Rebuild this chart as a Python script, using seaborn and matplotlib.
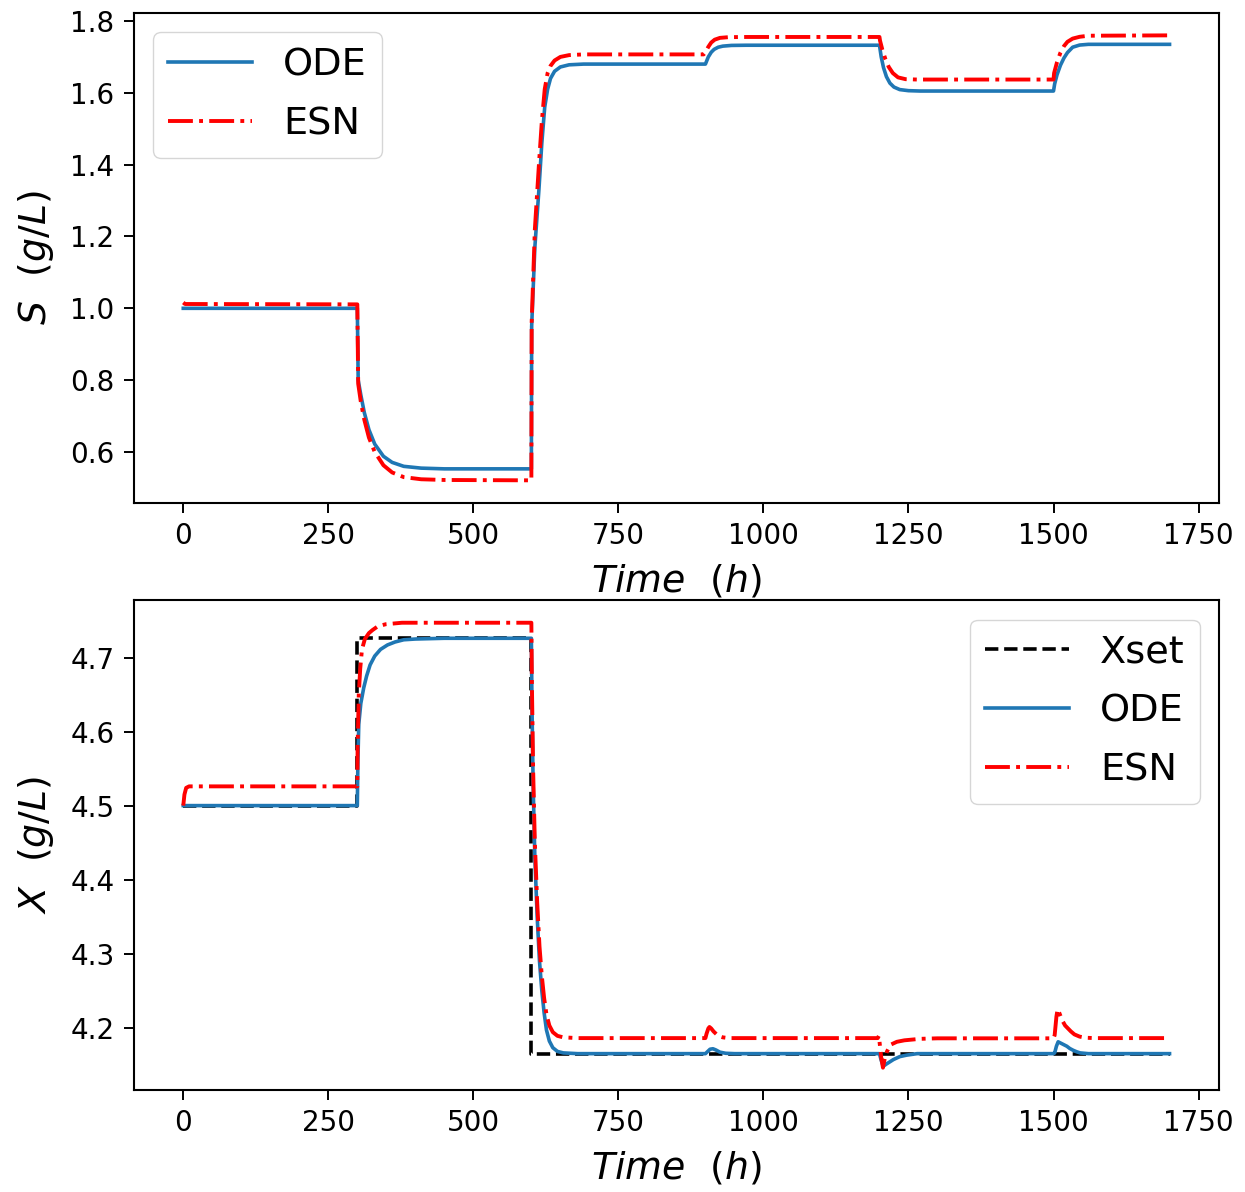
import matplotlib
matplotlib.use("Agg")
import matplotlib.pyplot as plt
import seaborn as sns

# ---------------------------------------------------------------
# Substrate concentration S (g/L): time knots (h) and values
# ---------------------------------------------------------------
s_ode_t = [0, 300,
           300, 301.5, 306, 312, 320, 330, 345, 360, 380, 410, 450, 600,
           600, 600.5, 606, 613, 618, 623, 628, 633, 640, 650, 665, 690, 900,
           900, 905, 910, 915, 922, 930, 945, 970, 1200,
           1200, 1203, 1207, 1212, 1218, 1225, 1235, 1250, 1270, 1500,
           1500, 1502, 1506, 1512, 1518, 1524, 1533, 1545, 1560, 1700]
s_ode = [1.000, 1.000,
         1.000, 0.800, 0.759, 0.710, 0.662, 0.622, 0.588, 0.571, 0.560, 0.555, 0.553, 0.553,
         0.553, 0.950, 1.170, 1.330, 1.460, 1.560, 1.610, 1.640, 1.660, 1.672, 1.678, 1.680, 1.680,
         1.680, 1.700, 1.713, 1.721, 1.727, 1.730, 1.732, 1.7325, 1.7325,
         1.7325, 1.700, 1.670, 1.645, 1.627, 1.616, 1.609, 1.606, 1.605, 1.605,
         1.605, 1.625, 1.650, 1.677, 1.697, 1.712, 1.727, 1.733, 1.735, 1.735]

s_esn_t = [0, 3, 300,
           300, 301.5, 306, 312, 320, 330, 345, 360, 380, 410, 450, 600,
           600, 600.5, 606, 613, 618, 623, 628, 633, 640, 650, 665, 690, 897,
           900, 905, 910, 916, 925, 940, 970, 1200,
           1201, 1205, 1210, 1216, 1223, 1232, 1245, 1265, 1500,
           1501, 1506, 1512, 1518, 1524, 1533, 1545, 1560, 1700]
s_esn = [1.016, 1.012, 1.011,
         1.011, 0.790, 0.740, 0.690, 0.640, 0.600, 0.563, 0.543, 0.530, 0.524, 0.522, 0.521,
         0.521, 0.960, 1.220, 1.400, 1.520, 1.610, 1.655, 1.675, 1.690, 1.700, 1.705, 1.707, 1.707,
         1.713, 1.728, 1.740, 1.748, 1.753, 1.755, 1.7555, 1.7555,
         1.745, 1.720, 1.695, 1.672, 1.655, 1.643, 1.638, 1.637, 1.637,
         1.655, 1.685, 1.712, 1.730, 1.742, 1.751, 1.756, 1.759, 1.760]

# ---------------------------------------------------------------
# Biomass concentration X (g/L): set-point, ODE model and ESN model
# ---------------------------------------------------------------
x_set_t = [0, 300, 300, 600, 600, 1700]
x_set = [4.500, 4.500, 4.727, 4.727, 4.164, 4.164]

x_ode_t = [0, 300,
           301, 302.5, 306, 311, 316, 322, 330, 340, 352, 365, 380, 400, 450, 600,
           601, 603, 606, 610, 614, 618, 622, 626, 631, 637, 645, 655, 680, 900,
           904, 908, 913, 918, 925, 935, 950, 1200,
           1203, 1206.5, 1212, 1218, 1224, 1235, 1247, 1265, 1500,
           1502, 1505, 1508, 1513, 1518, 1523, 1528, 1534, 1540, 1546, 1560, 1700]
x_ode = [4.500, 4.500,
         4.560, 4.610, 4.638, 4.659, 4.675, 4.690, 4.702, 4.711, 4.717, 4.721, 4.724, 4.725, 4.726, 4.726,
         4.640, 4.530, 4.430, 4.350, 4.290, 4.250, 4.220, 4.197, 4.182, 4.173, 4.168, 4.166, 4.165, 4.165,
         4.168, 4.171, 4.1716, 4.170, 4.167, 4.1655, 4.165, 4.165,
         4.156, 4.148, 4.151, 4.154, 4.157, 4.161, 4.163, 4.165, 4.165,
         4.166, 4.175, 4.181, 4.179, 4.177, 4.175, 4.172, 4.1695, 4.1675, 4.166, 4.165, 4.165]

x_esn_t = [0, 2, 5, 10, 300,
           300.5, 302.5, 305, 308, 313, 320, 326, 335, 349, 377, 600,
           601, 603, 606, 610, 614, 618, 622, 626, 631, 637, 645, 655, 680, 900,
           902, 905, 907, 910, 914, 918, 922, 930, 940, 1197,
           1199, 1203, 1206, 1209, 1213, 1219, 1230, 1243, 1270, 1300, 1500,
           1502, 1505, 1507, 1510, 1515, 1520, 1525, 1530, 1536, 1545, 1555, 1570, 1700]
x_esn = [4.500, 4.515, 4.524, 4.526, 4.526,
         4.580, 4.650, 4.685, 4.711, 4.725, 4.733, 4.737, 4.742, 4.745, 4.747, 4.747,
         4.660, 4.550, 4.450, 4.370, 4.310, 4.270, 4.240, 4.218, 4.203, 4.194, 4.189, 4.187, 4.186, 4.186,
         4.192, 4.199, 4.201, 4.199, 4.195, 4.192, 4.189, 4.187, 4.186, 4.186,
         4.189, 4.160, 4.146, 4.158, 4.168, 4.177, 4.181, 4.183, 4.185, 4.1857, 4.1857,
         4.190, 4.215, 4.225, 4.220, 4.210, 4.203, 4.199, 4.195, 4.191, 4.188, 4.1865, 4.186, 4.186]

ODE_COLOR = "#1f77b4"
ESN_COLOR = "red"
SET_COLOR = "black"

TICK_SIZE = 20
LABEL_SIZE = 27.3
LEGEND_SIZE = 27.5

plt.rcParams.update({
    "axes.linewidth": 1.5,
    "xtick.major.size": 7,
    "ytick.major.size": 7,
    "xtick.major.width": 1.4,
    "ytick.major.width": 1.4,
    "xtick.major.pad": 7,
    "ytick.major.pad": 7,
    "xtick.labelsize": TICK_SIZE,
    "ytick.labelsize": TICK_SIZE,
    "mathtext.fontset": "dejavusans",
})

fig, (ax1, ax2) = plt.subplots(2, 1, figsize=(12.45, 11.92), dpi=100)
fig.subplots_adjust(left=0.1076, right=0.979, top=0.989, bottom=0.0856, hspace=0.2)


def trace(ax, t, v, color, ls, lw, label):
    sns.lineplot(x=t, y=v, ax=ax, estimator=None, sort=False,
                 color=color, linestyle=ls, linewidth=lw, label=label)


# Top panel: substrate
trace(ax1, s_ode_t, s_ode, ODE_COLOR, "-", 2.6, "ODE")
trace(ax1, s_esn_t, s_esn, ESN_COLOR, "-.", 2.8, "ESN")
ax1.set_xlabel(r"$Time\ \ (h)$", fontsize=LABEL_SIZE, labelpad=9)
ax1.set_ylabel(r"$S\ \ (g/L)$", fontsize=LABEL_SIZE, labelpad=10)
ax1.set_xticks([0, 250, 500, 750, 1000, 1250, 1500, 1750])
ax1.set_yticks([0.6, 0.8, 1.0, 1.2, 1.4, 1.6, 1.8])
ax1.legend(loc="upper left", fontsize=LEGEND_SIZE, handlelength=2.2, labelspacing=0.6)

# Bottom panel: biomass
trace(ax2, x_set_t, x_set, SET_COLOR, "--", 2.6, "Xset")
trace(ax2, x_ode_t, x_ode, ODE_COLOR, "-", 2.6, "ODE")
trace(ax2, x_esn_t, x_esn, ESN_COLOR, "-.", 2.8, "ESN")
ax2.set_xlabel(r"$Time\ \ (h)$", fontsize=LABEL_SIZE, labelpad=9)
ax2.set_ylabel(r"$X\ \ (g/L)$", fontsize=LABEL_SIZE, labelpad=10)
ax2.set_xticks([0, 250, 500, 750, 1000, 1250, 1500, 1750])
ax2.set_yticks([4.2, 4.3, 4.4, 4.5, 4.6, 4.7])
ax2.legend(loc="upper right", fontsize=LEGEND_SIZE, handlelength=2.2, labelspacing=0.6)

for ax in (ax1, ax2):
    ax.set_xlim(-85, 1785)

fig.savefig("out.png", dpi=100)
